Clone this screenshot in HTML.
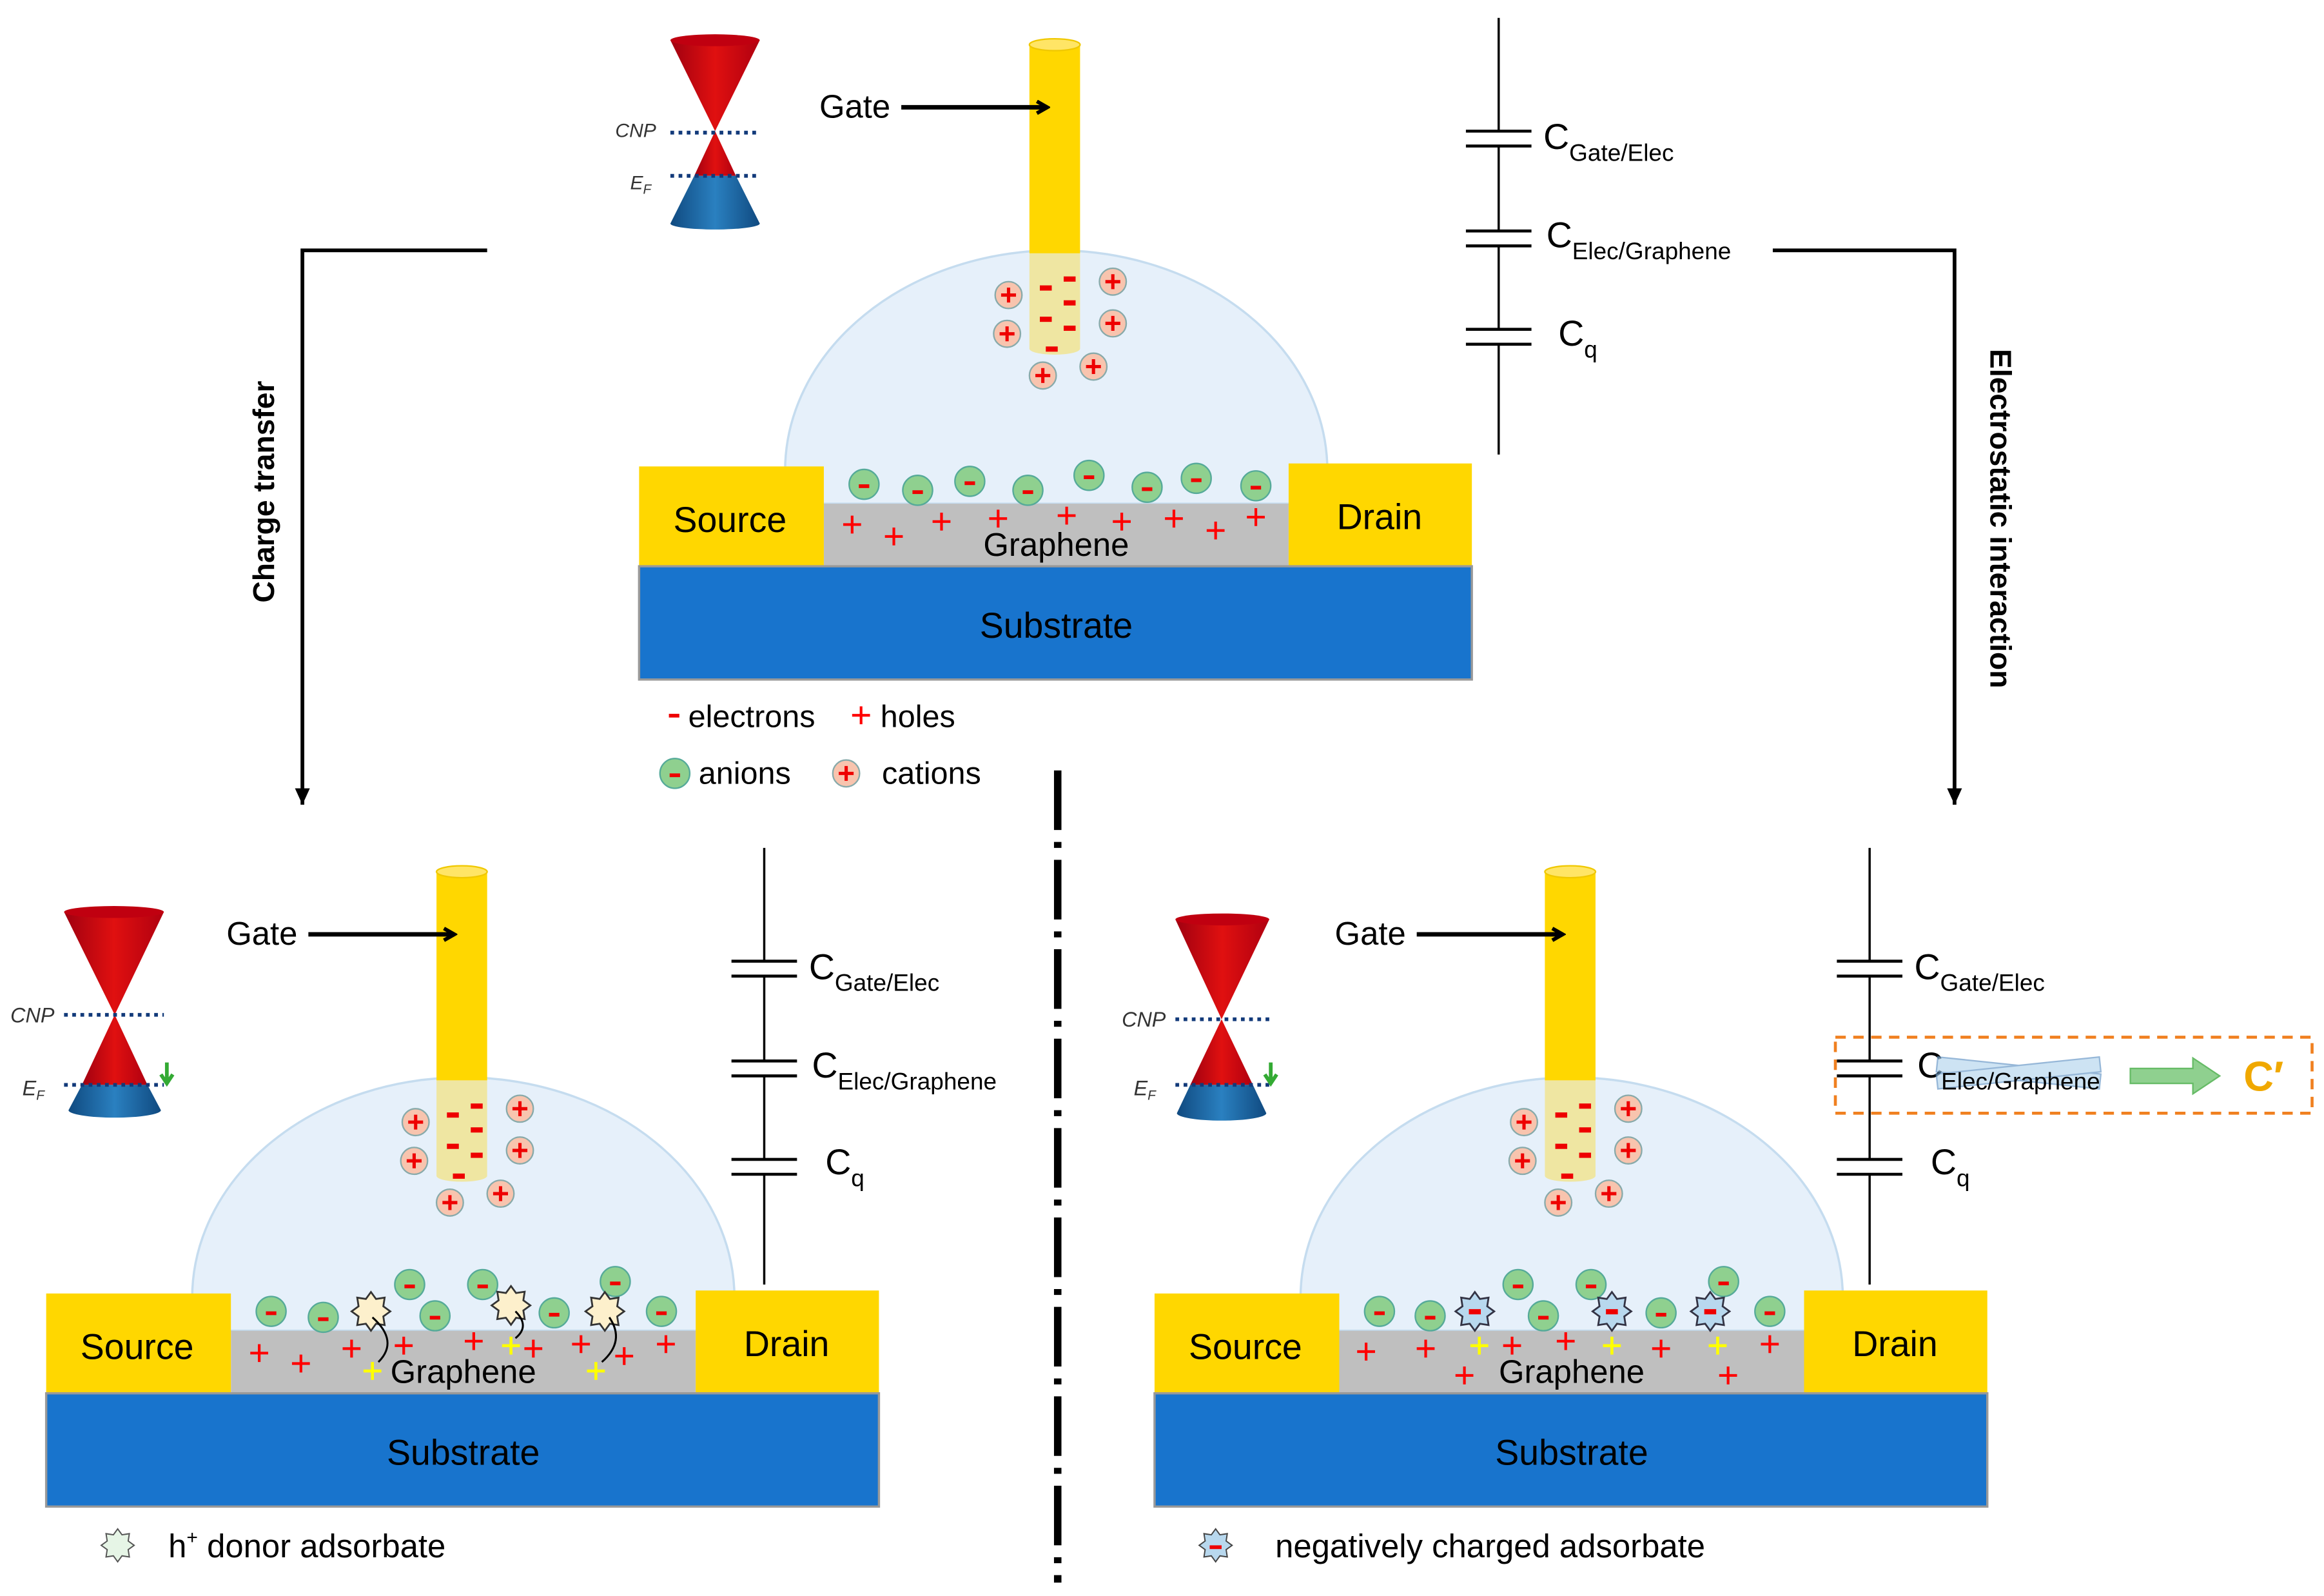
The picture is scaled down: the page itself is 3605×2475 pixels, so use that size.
<!DOCTYPE html>
<html><head><meta charset="utf-8"><style>html,body{margin:0;padding:0;background:#fff}svg{display:block}text{font-family:"Liberation Sans",sans-serif}</style></head><body>
<svg width="3605" height="2475" viewBox="0 0 1560 1071" xmlns="http://www.w3.org/2000/svg">
<defs>
<linearGradient id="rg" x1="0" x2="1"><stop offset="0" stop-color="#a00010"/><stop offset=".5" stop-color="#e01010"/><stop offset="1" stop-color="#b00010"/></linearGradient>
<linearGradient id="bg" x1="0" x2="1"><stop offset="0" stop-color="#104a80"/><stop offset=".5" stop-color="#2a80c0"/><stop offset="1" stop-color="#104a80"/></linearGradient>
<marker id="ah" markerWidth="10" markerHeight="10" refX="8" refY="5" orient="auto" markerUnits="userSpaceOnUse"><path d="M1,1 L8,5 L1,9" fill="none" stroke="#000" stroke-width="2.5"/></marker>
<marker id="ah2" markerWidth="12" markerHeight="12" refX="11" refY="5" orient="auto" markerUnits="userSpaceOnUse"><path d="M0,0 L11,5 L0,10 Z" fill="#000"/></marker>
<g id="dev">
<path d="M527,338 V316 A182,148 0 0 1 891,316 V338 Z" fill="#e6f0fa" stroke="#c5dcef" stroke-width="1.5"/>
<rect x="691" y="30" width="34" height="140" fill="#ffd700"/>
<path d="M691,170 L725,170 L725,234 A17,4 0 0 1 691,234 Z" fill="#efe6a2"/>
<ellipse cx="708" cy="30" rx="17" ry="4" fill="#ffe566" stroke="#f0c800"/>
<rect x="553" y="338" width="312" height="42" fill="#bfbfbf"/>
<rect x="429" y="313" width="124" height="67" fill="#ffd700"/>
<rect x="865" y="311" width="123" height="69" fill="#ffd700"/>
<rect x="429" y="380" width="559" height="76" fill="#1874cd" stroke="#999" stroke-width="1.5"/>
<text x="490" y="357" font-size="24" text-anchor="middle">Source</text>
<text x="926" y="355" font-size="24" text-anchor="middle">Drain</text>
<text x="709" y="428" font-size="24" text-anchor="middle">Substrate</text>
<text x="709" y="373" font-size="22" text-anchor="middle">Graphene</text>
<text x="550" y="79" font-size="22">Gate</text>
<line x1="605" y1="72" x2="703" y2="72" stroke="#000" stroke-width="3" marker-end="url(#ah)"/>
</g>
<g id="cat"><circle r="9" fill="#f8c4ae" stroke="#8aa" stroke-width="1"/><path d="M-5,0H5M0,-5V5" stroke="#e00" stroke-width="2.2"/></g>
<g id="an"><circle r="10" fill="#8fd08f" stroke="#5a9" stroke-width="1"/><rect x="-3.5" y="0" width="7" height="2.5" fill="#e00"/></g>
<path id="hp" d="M-6,0H6M0,-6V6" stroke="#f00" stroke-width="1.8"/>
<path id="yp" d="M-6,0H6M0,-6V6" stroke="#ff0" stroke-width="2"/>
<rect id="el" x="-4" y="-1.5" width="8" height="3.5" fill="#e00"/>
<path id="star" d="M13,0 L8.3,3.4 L9.2,9.2 L3.4,8.3 L0,13 L-3.4,8.3 L-9.2,9.2 L-8.3,3.4 L-13,0 L-8.3,-3.4 L-9.2,-9.2 L-3.4,-8.3 L0,-13 L3.4,-8.3 L9.2,-9.2 L8.3,-3.4Z"/>
<g id="ions">
<use href="#cat" x="677" y="198"/><use href="#cat" x="676" y="224"/><use href="#cat" x="747" y="189"/><use href="#cat" x="747" y="217"/><use href="#cat" x="700" y="252"/><use href="#cat" x="734" y="246"/>
<use href="#el" x="702" y="193"/><use href="#el" x="718" y="187"/><use href="#el" x="718" y="203"/><use href="#el" x="702" y="214"/><use href="#el" x="718" y="220"/><use href="#el" x="706" y="234"/>
</g>
<g id="circ">
<line x1="0" y1="0" x2="0" y2="293" stroke="#000" stroke-width="1.5"/>
<g fill="#fff" stroke="#000" stroke-width="2">
<rect x="-22" y="76" width="44" height="10" fill="#fff" stroke="none"/><line x1="-22" y1="76" x2="22" y2="76"/><line x1="-22" y1="86" x2="22" y2="86"/>
<rect x="-22" y="143" width="44" height="10" fill="#fff" stroke="none"/><line x1="-22" y1="143" x2="22" y2="143"/><line x1="-22" y1="153" x2="22" y2="153"/>
<rect x="-22" y="209" width="44" height="10" fill="#fff" stroke="none"/><line x1="-22" y1="209" x2="22" y2="209"/><line x1="-22" y1="219" x2="22" y2="219"/>
</g>
</g>
</defs>

<use href="#dev"/>
<use href="#ions"/>
<g>
<use href="#an" x="580" y="325"/><use href="#an" x="616" y="329"/><use href="#an" x="651" y="323"/><use href="#an" x="690" y="329"/><use href="#an" x="731" y="319"/><use href="#an" x="770" y="327"/><use href="#an" x="803" y="321"/><use href="#an" x="843" y="326"/>
<use href="#hp" x="572" y="352"/><use href="#hp" x="600" y="360"/><use href="#hp" x="632" y="350"/><use href="#hp" x="670" y="348"/><use href="#hp" x="716" y="346"/><use href="#hp" x="753" y="350"/><use href="#hp" x="788" y="348"/><use href="#hp" x="816" y="356"/><use href="#hp" x="843" y="347"/>
</g>
<path d="M450,27 L510,27 L480,88 Z" fill="url(#rg)"/>
<ellipse cx="480" cy="27" rx="30" ry="4" fill="#c00010"/>
<path d="M480,88 L494,118 L466,118 Z" fill="url(#rg)"/>
<path d="M466,118 L494,118 L510,150 A30,4 0 0 1 450,150 Z" fill="url(#bg)"/>
<line x1="450" y1="89" x2="510" y2="89" stroke="#123a7a" stroke-width="2.5" stroke-dasharray="2.5,3"/>
<line x1="450" y1="118" x2="510" y2="118" stroke="#123a7a" stroke-width="2.5" stroke-dasharray="2.5,3"/>
<text x="413" y="92" font-size="13" font-style="italic" fill="#333">CNP</text>
<text x="423" y="127" font-size="13" font-style="italic" fill="#333">E<tspan font-size="9" dy="3">F</tspan></text>

<use href="#circ" x="1006" y="12"/>
<text x="1036" y="100" font-size="24">C<tspan font-size="16" dy="8">Gate/Elec</tspan></text>
<text x="1038" y="166" font-size="24">C<tspan font-size="16" dy="8">Elec/Graphene</tspan></text>
<text x="1046" y="232" font-size="24">C<tspan font-size="16" dy="8">q</tspan></text>

<rect x="449" y="479" width="7" height="2.5" fill="#e00"/>
<text x="462" y="488" font-size="21">electrons</text>
<use href="#hp" x="578" y="480"/>
<text x="591" y="488" font-size="21">holes</text>
<use href="#an" x="453" y="519"/>
<text x="469" y="526" font-size="21">anions</text>
<use href="#cat" x="568" y="519"/>
<text x="592" y="526" font-size="21">cations</text>

<polyline points="327,168 203,168 203,540" fill="none" stroke="#000" stroke-width="2.5" marker-end="url(#ah2)"/>
<polyline points="1190,168 1312,168 1312,540" fill="none" stroke="#000" stroke-width="2.5" marker-end="url(#ah2)"/>
<text transform="translate(184,330) rotate(-90)" font-size="20" font-weight="bold" text-anchor="middle">Charge transfer</text>
<text transform="translate(1336,348) rotate(90)" font-size="20" font-weight="bold" text-anchor="middle">Electrostatic interaction</text>

<line x1="710" y1="517" x2="710" y2="1062" stroke="#000" stroke-width="5" stroke-dasharray="40,8,4,8"/>

<use href="#dev" transform="translate(-398,555)"/>
<use href="#ions" transform="translate(-398,555)"/>
<g>
<use href="#an" x="182" y="880"/><use href="#an" x="217" y="884"/><use href="#an" x="275" y="862"/><use href="#an" x="292" y="883"/><use href="#an" x="324" y="862"/><use href="#an" x="372" y="881"/><use href="#an" x="413" y="860"/><use href="#an" x="444" y="880"/>
<g fill="#fdf0cc" stroke="#333" stroke-width="1.2"><use href="#star" x="249" y="880"/><use href="#star" x="343" y="876"/><use href="#star" x="406" y="880"/></g>
<use href="#hp" x="174" y="908"/><use href="#hp" x="202" y="915"/><use href="#hp" x="236" y="905"/><use href="#hp" x="271" y="903"/><use href="#hp" x="318" y="900"/><use href="#hp" x="390" y="902"/><use href="#hp" x="419" y="910"/><use href="#hp" x="447" y="902"/><use href="#hp" x="358" y="905"/>
<use href="#yp" x="250" y="920"/><use href="#yp" x="343" y="903"/><use href="#yp" x="400" y="920"/>
<g fill="none" stroke="#000" stroke-width="1.3"><path d="M250,884 Q268,900 254,914"/><path d="M346,880 Q356,890 346,898"/><path d="M409,884 Q420,900 404,914"/></g>
</g>
<path d="M43,612 L110,612 L77,681 Z" fill="url(#rg)"/>
<ellipse cx="76.5" cy="612" rx="33.5" ry="4" fill="#c00010"/>
<path d="M77,681 L99,728 L55,728 Z" fill="url(#rg)"/>
<path d="M55,728 L99,728 L108,745 A31,5 0 0 1 46,745 Z" fill="url(#bg)"/>
<line x1="43" y1="681" x2="110" y2="681" stroke="#123a7a" stroke-width="2.5" stroke-dasharray="2.5,3"/>
<line x1="43" y1="728" x2="110" y2="728" stroke="#123a7a" stroke-width="2.5" stroke-dasharray="2.5,3"/>
<path d="M112,713 V726 M108,721 L112,727 L116,721" stroke="#3a3" stroke-width="2.5" fill="none"/>
<text x="7" y="686" font-size="14" font-style="italic" fill="#333">CNP</text>
<text x="15" y="735" font-size="14" font-style="italic" fill="#333">E<tspan font-size="9" dy="3">F</tspan></text>
<use href="#circ" x="513" y="569"/>
<text x="543" y="657" font-size="24">C<tspan font-size="16" dy="8">Gate/Elec</tspan></text>
<text x="545" y="723" font-size="24">C<tspan font-size="16" dy="8">Elec/Graphene</tspan></text>
<text x="554" y="788" font-size="24">C<tspan font-size="16" dy="8">q</tspan></text>
<use href="#star" fill="#e6f5e6" stroke="#555" stroke-width="1" transform="translate(79,1037) scale(.85)"/>
<text x="113" y="1045" font-size="22">h<tspan font-size="13" dy="-9">+</tspan><tspan dy="9"> donor adsorbate</tspan></text>

<use href="#dev" transform="translate(346,555)"/>
<use href="#ions" transform="translate(346,555)"/>
<g>
<use href="#an" x="926" y="880"/><use href="#an" x="960" y="883"/><use href="#an" x="1019" y="862"/><use href="#an" x="1036" y="883"/><use href="#an" x="1068" y="862"/><use href="#an" x="1115" y="881"/><use href="#an" x="1157" y="860"/><use href="#an" x="1188" y="880"/>
<g fill="#b8d8ee" stroke="#334" stroke-width="1.2"><use href="#star" x="990" y="880"/><use href="#star" x="1082" y="880"/><use href="#star" x="1148" y="880"/></g>
<use href="#el" x="990" y="880"/><use href="#el" x="1082" y="880"/><use href="#el" x="1148" y="880"/>
<use href="#hp" x="917" y="907"/><use href="#hp" x="957" y="905"/><use href="#hp" x="1015" y="903"/><use href="#hp" x="1051" y="900"/><use href="#hp" x="1115" y="905"/><use href="#hp" x="1160" y="923"/><use href="#hp" x="983" y="923"/><use href="#hp" x="1188" y="902"/>
<use href="#yp" x="993" y="903"/><use href="#yp" x="1082" y="903"/><use href="#yp" x="1153" y="903"/>
</g>
<path d="M789,617 L852,617 L820,684 Z" fill="url(#rg)"/>
<ellipse cx="820.5" cy="617" rx="31.5" ry="4" fill="#c00010"/>
<path d="M820,684 L841,728 L799,728 Z" fill="url(#rg)"/>
<path d="M799,728 L841,728 L850,747 A30,5 0 0 1 790,747 Z" fill="url(#bg)"/>
<line x1="789" y1="684" x2="852" y2="684" stroke="#123a7a" stroke-width="2.5" stroke-dasharray="2.5,3"/>
<line x1="789" y1="728" x2="852" y2="728" stroke="#123a7a" stroke-width="2.5" stroke-dasharray="2.5,3"/>
<path d="M853,713 V726 M849,721 L853,727 L857,721" stroke="#3a3" stroke-width="2.5" fill="none"/>
<text x="753" y="689" font-size="14" font-style="italic" fill="#333">CNP</text>
<text x="761" y="735" font-size="14" font-style="italic" fill="#333">E<tspan font-size="9" dy="3">F</tspan></text>
<use href="#circ" x="1255" y="569"/>
<text x="1285" y="657" font-size="24">C<tspan font-size="16" dy="8">Gate/Elec</tspan></text>
<text x="1287" y="723" font-size="24">C</text>
<g opacity=".7"><rect x="1300" y="715" width="110" height="10" transform="rotate(6 1355 720)" fill="#b8d8ee" stroke="#6a9ac8"/><rect x="1300" y="715" width="110" height="10" transform="rotate(-6 1355 720)" fill="#b8d8ee" stroke="#6a9ac8"/></g>
<text x="1303" y="731" font-size="16">Elec/Graphene</text>
<text x="1296" y="788" font-size="24">C<tspan font-size="16" dy="8">q</tspan></text>
<rect x="1232" y="696" width="320" height="51" fill="none" stroke="#f08020" stroke-width="2" stroke-dasharray="7,5"/>
<path d="M1430,717 H1472 V710 L1490,722 L1472,734 V727 H1430 Z" fill="#8fd08f" stroke="#6b6" stroke-width="1"/>
<text x="1506" y="732" font-size="28" font-weight="bold" fill="#f0a800">C′</text>
<use href="#star" fill="#b8d8ee" stroke="#444" stroke-width="1" transform="translate(816,1037) scale(.85)"/>
<rect x="812" y="1037" width="8" height="2.5" fill="#e00"/>
<text x="856" y="1045" font-size="22">negatively charged adsorbate</text>
</svg>
</body></html>
